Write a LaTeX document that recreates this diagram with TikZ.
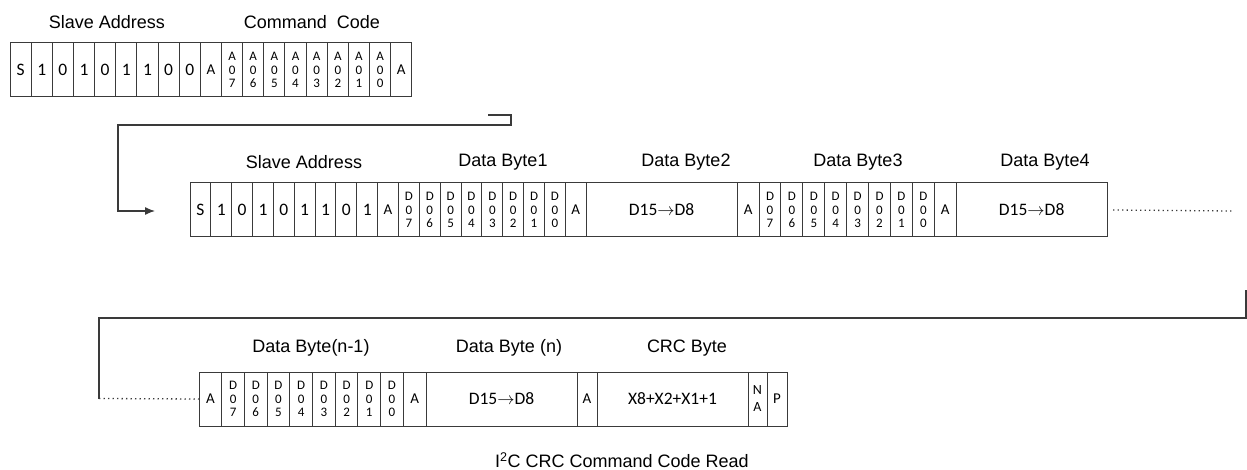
\documentclass[tikz,border=0pt]{standalone}
\usepackage{fontspec}
\setmainfont{Liberation Sans}
\newfontfamily\cellfont{Carlito}
\usetikzlibrary{arrows.meta,positioning}
\definecolor{frameGray}{HTML}{3A3A3A}
\tikzset{
  cell/.style={rectangle, draw=frameGray, line width=1pt, inner sep=0pt, outer sep=0pt, minimum height=54pt, align=center, font=\cellfont\fontsize{17.5}{17.5}\selectfont},
  bit/.style={cell, minimum width=21.2pt},
  ack/.style={bit, font=\cellfont\fontsize{15}{15}\selectfont},
  stack/.style={bit, font=\cellfont\fontsize{13}{13.5}\selectfont},
  wide/.style={cell, minimum width=151pt},
  title/.style={font=\fontsize{18}{18}\selectfont},
  link/.style={draw=frameGray, line width=1.3pt},
  arrow/.style={link, -{Latex[length=10pt,width=8pt]}},
  dots/.style={draw=frameGray, line width=1.3pt, dash pattern=on 1.3pt off 3.2pt}
}

\begin{document}
\begin{tikzpicture}[x=1pt, y=-1pt, node distance=0pt]
  \useasboundingbox (0,0) rectangle (1247,470);

  % write: slave address + command code
  \begin{scope}[bit/.append style={minimum width=21.15pt}]
  \node[bit, anchor=north west] (wS) at (10,43) {S};
  \node[bit, right=of wS] (w1) {1};
  \node[bit, right=of w1] (w2) {0};
  \node[bit, right=of w2] (w3) {1};
  \node[bit, right=of w3] (w4) {0};
  \node[bit, right=of w4] (w5) {1};
  \node[bit, right=of w5] (w6) {1};
  \node[bit, right=of w6] (w7) {0};
  \node[bit, right=of w7] (w8) {0};
  \node[ack, right=of w8] (wA1) {A};
  \node[stack, right=of wA1] (c7) {A\\0\\7};
  \node[stack, right=of c7] (c6) {A\\0\\6};
  \node[stack, right=of c6] (c5) {A\\0\\5};
  \node[stack, right=of c5] (c4) {A\\0\\4};
  \node[stack, right=of c4] (c3) {A\\0\\3};
  \node[stack, right=of c3] (c2) {A\\0\\2};
  \node[stack, right=of c2] (c1) {A\\0\\1};
  \node[stack, right=of c1] (c0) {A\\0\\0};
  \node[ack, right=of c0] (wA2) {A};
  \end{scope}

  \node[title] at (107,22) {Slave Address};
  \node[title] at (312,22) {Command\ \ Code};

  % read: slave address + data bytes
  \begin{scope}[bit/.append style={minimum width=20.85pt}]
  \node[bit, anchor=north west] (rS) at (190,183) {S};
  \node[bit, right=of rS] (r1) {1};
  \node[bit, right=of r1] (r2) {0};
  \node[bit, right=of r2] (r3) {1};
  \node[bit, right=of r3] (r4) {0};
  \node[bit, right=of r4] (r5) {1};
  \node[bit, right=of r5] (r6) {1};
  \node[bit, right=of r6] (r7) {0};
  \node[bit, right=of r7] (r8) {1};
  \node[ack, right=of r8] (rA1) {A};
  \node[stack, right=of rA1] (p7) {D\\0\\7};
  \node[stack, right=of p7] (p6) {D\\0\\6};
  \node[stack, right=of p6] (p5) {D\\0\\5};
  \node[stack, right=of p5] (p4) {D\\0\\4};
  \node[stack, right=of p4] (p3) {D\\0\\3};
  \node[stack, right=of p3] (p2) {D\\0\\2};
  \node[stack, right=of p2] (p1) {D\\0\\1};
  \node[stack, right=of p1] (p0) {D\\0\\0};
  \node[ack, right=of p0] (rA2) {A};
  \end{scope}
  \node[wide, right=of rA2] (byte2) {D15$\rightarrow$D8};
  \begin{scope}[bit/.append style={minimum width=21.9pt}]
  \node[ack, right=of byte2] (rA3) {A};
  \node[stack, right=of rA3] (q7) {D\\0\\7};
  \node[stack, right=of q7] (q6) {D\\0\\6};
  \node[stack, right=of q6] (q5) {D\\0\\5};
  \node[stack, right=of q5] (q4) {D\\0\\4};
  \node[stack, right=of q4] (q3) {D\\0\\3};
  \node[stack, right=of q3] (q2) {D\\0\\2};
  \node[stack, right=of q2] (q1) {D\\0\\1};
  \node[stack, right=of q1] (q0) {D\\0\\0};
  \node[ack, right=of q0] (rA4) {A};
  \end{scope}
  \node[wide, right=of rA4] (byte4) {D15$\rightarrow$D8};

  \node[title] at (304,162) {Slave Address};
  \node[title] at (503,162) {Data Byte1};
  \node[title] at (686,162) {Data Byte2};
  \node[title] at (858,162) {Data Byte3};
  \node[title] at (1045,162) {Data Byte4};

  % last bytes + crc
  \begin{scope}[bit/.append style={minimum width=22.7pt}]
  \node[ack, anchor=north west] (tA1) at (199,372) {A};
  \node[stack, right=of tA1] (n7) {D\\0\\7};
  \node[stack, right=of n7] (n6) {D\\0\\6};
  \node[stack, right=of n6] (n5) {D\\0\\5};
  \node[stack, right=of n5] (n4) {D\\0\\4};
  \node[stack, right=of n4] (n3) {D\\0\\3};
  \node[stack, right=of n3] (n2) {D\\0\\2};
  \node[stack, right=of n2] (n1) {D\\0\\1};
  \node[stack, right=of n1] (n0) {D\\0\\0};
  \node[ack, right=of n0] (tA2) {A};
  \end{scope}
  \node[wide, right=of tA2] (byten) {D15$\rightarrow$D8};
  \node[ack, minimum width=20pt, right=of byten] (tA3) {A};
  \node[wide, right=of tA3] (crc) {X8+X2+X1+1};
  \node[stack, minimum width=19pt, font=\cellfont\fontsize{14}{17}\selectfont, right=of crc] (nack) {N\\A};
  \node[ack, minimum width=20pt, right=of nack] (stop) {P};

  \node[title] at (311,348) {Data Byte(n-1)};
  \node[title] at (509,348) {Data Byte (n)};
  \node[title] at (687,348) {CRC Byte};
  \node[title] at (622,460) {I\textsuperscript{2}C CRC Command Code Read};

  % connectors
  \coordinate (tail1) at (488,115);
  \coordinate (head1) at (155,211);
  \draw[arrow] (tail1) -| (511,125) -| (118,211) -- (head1);

  \coordinate (dotsEnd) at (1232,211);
  \draw[dots] ([xshift=6pt]byte4.east) -- (dotsEnd);

  \coordinate (edge) at (1246,290);
  \coordinate (drop) at (99,398.5);
  \draw[link] (edge) |- (99,318) -- (drop);
  \draw[dots] (drop) -- (tA1.west);
\end{tikzpicture}
\end{document}
